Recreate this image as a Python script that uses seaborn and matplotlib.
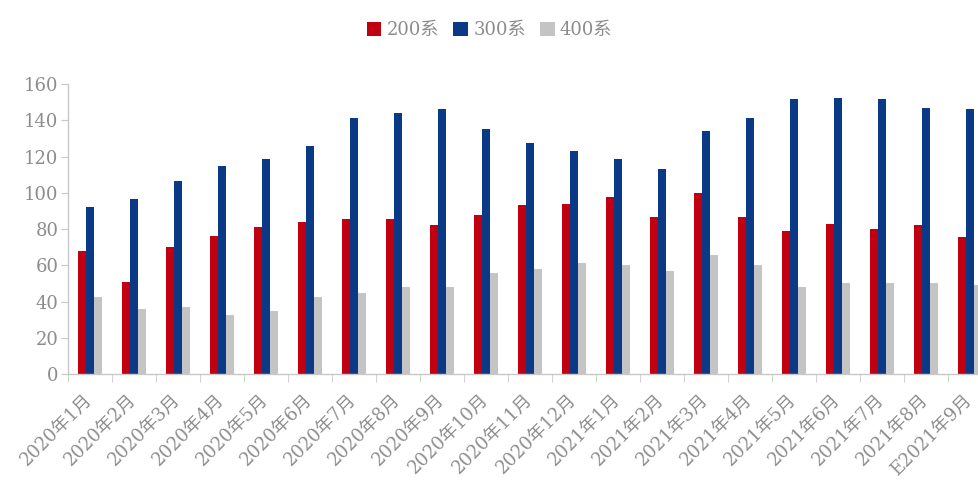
import numpy as np
import pandas as pd
import matplotlib
matplotlib.use('Agg')
import matplotlib.pyplot as plt
import matplotlib.transforms as mtransforms
import seaborn as sns
from matplotlib.patches import Patch

months = ['2020年1月', '2020年2月', '2020年3月', '2020年4月', '2020年5月', '2020年6月',
          '2020年7月', '2020年8月', '2020年9月', '2020年10月', '2020年11月', '2020年12月',
          '2021年1月', '2021年2月', '2021年3月', '2021年4月', '2021年5月', '2021年6月',
          '2021年7月', '2021年8月', 'E2021年9月']
s200 = [68, 51, 70, 76, 81, 84, 85.5, 85.5, 82, 88, 93, 94, 97.5, 86.5, 100, 86.5, 79, 83, 80, 82, 75.5]
s300 = [92, 96.5, 106.5, 115, 118.5, 126, 141.5, 144, 146, 135, 127.5, 123, 118.5, 113, 134, 141.5, 151.5, 152.5, 151.5, 147, 146]
s400 = [42.5, 36, 37, 32.5, 35, 42.5, 44.5, 48, 48, 55.5, 58, 61, 60, 57, 65.5, 60, 48, 50, 50, 50, 49]
series = ['200系', '300系', '400系']
colors = ['#C00010', '#0A3A86', '#C4C4C4']

df = pd.DataFrame({
    'month': months * 3,
    'value': s200 + s300 + s400,
    'series': [series[0]] * len(months) + [series[1]] * len(months) + [series[2]] * len(months),
})

sns.set_style('white')
plt.rcParams['font.family'] = ['DejaVu Serif', 'Noto Sans CJK SC']

fig = plt.figure(figsize=(9.79, 4.9), dpi=100)
ax = fig.add_axes([68 / 979, 116 / 490, 924 / 979, 290 / 490])

sns.barplot(data=df, x='month', y='value', hue='series', palette=colors,
            width=0.55, saturation=1, linewidth=0, ax=ax, legend=False)

ax.set_xlim(-0.5, len(months) - 0.5)
ax.set_ylim(0, 160)
ax.set_yticks(np.arange(0, 161, 20))
ax.set_xlabel('')
ax.set_ylabel('')

txt = '#8C8C8C'
for s in ['top', 'right']:
    ax.spines[s].set_visible(False)
for s in ['left', 'bottom']:
    ax.spines[s].set_color('#C8C8C8')
    ax.spines[s].set_linewidth(1)

ax.tick_params(axis='y', length=5, color='#C8C8C8', labelsize=13, labelcolor=txt, pad=2, left=True)
ax.set_xticks(range(len(months)))
ax.set_xticklabels(months, rotation=45, ha='right', rotation_mode='anchor')
ax.tick_params(axis='x', length=0, labelsize=13, labelcolor=txt, pad=12)
ax.set_xticks(np.arange(-0.5, len(months), 1), minor=True)
ax.tick_params(axis='x', which='minor', length=6, color='#C8C8C8', bottom=True)

# nudge the rotated labels a little to the left so the last one stays inside
shift = mtransforms.ScaledTranslation(-5 / 72, 0, fig.dpi_scale_trans)
for lab in ax.get_xticklabels():
    lab.set_transform(lab.get_transform() + shift)

handles = [Patch(facecolor=c, edgecolor='none') for c in colors]
leg = fig.legend(handles, series, loc='upper center', bbox_to_anchor=(0.5, 0.99), ncol=3,
                 frameon=False, fontsize=13, handlelength=0.8, handleheight=0.8,
                 handletextpad=0.3, columnspacing=0.8)
for t in leg.get_texts():
    t.set_color(txt)

fig.savefig('out.png', dpi=100)
